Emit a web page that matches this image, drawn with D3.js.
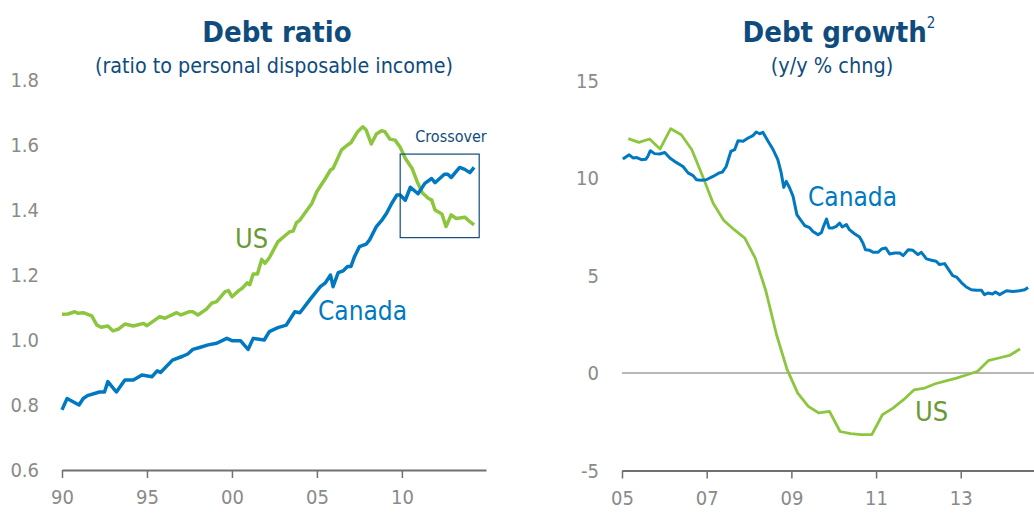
<!DOCTYPE html>
<html>
<head>
<meta charset="utf-8">
<script src="https://cdn.jsdelivr.net/npm/d3@7"></script>
<style>
  body { margin: 0; background: #fff; }
  svg text { font-family: "DejaVu Sans Condensed", "DejaVu Sans", sans-serif; }
</style>
</head>
<body>
<div id="main_output"></div>
<script>
// ---- data ----

// left panel: debt ratio to personal disposable income
var ratioTicks = [0.6, 0.8, 1.0, 1.2, 1.4, 1.6, 1.8];
var ratioYearTicks = [1990, 1995, 2000, 2005, 2010];
var ratioYearLabels = ["90", "95", "00", "05", "10"];

var canRatioDates = [1990.0, 1990.3, 1991.0, 1991.25, 1991.5, 1992.2, 1992.5, 1992.7, 1993.2, 1993.7,
  1994.2, 1994.7, 1995.3, 1995.6, 1995.8, 1996.5, 1997.1, 1997.4, 1997.7, 1998.1,
  1998.6, 1999.1, 1999.7, 2000.0, 2000.5, 2000.95, 2001.25, 2001.9, 2002.2, 2002.7,
  2003.2, 2003.7, 2004.0, 2004.6, 2005.2, 2005.5, 2005.8, 2005.95, 2006.25, 2006.55,
  2006.8, 2007.0, 2007.2, 2007.5, 2007.9, 2008.1, 2008.5, 2008.8, 2009.1, 2009.4,
  2009.7, 2009.9, 2010.2, 2010.5, 2010.95, 2011.35, 2011.75, 2011.95, 2012.5, 2012.7,
  2012.9, 2013.4, 2013.7, 2014.0, 2014.25];
var canRatio = [0.785, 0.82, 0.80, 0.82, 0.829, 0.84, 0.84, 0.872, 0.84, 0.877,
  0.877, 0.892, 0.887, 0.905, 0.90, 0.938, 0.95, 0.957, 0.971, 0.977,
  0.985, 0.99, 1.005, 0.998, 0.998, 0.971, 1.005, 1.0, 1.026, 1.038,
  1.046, 1.087, 1.084, 1.125, 1.164, 1.176, 1.2, 1.164, 1.207, 1.213,
  1.226, 1.226, 1.255, 1.287, 1.295, 1.308, 1.349, 1.367, 1.39, 1.42,
  1.446, 1.446, 1.43, 1.47, 1.45, 1.482, 1.497, 1.484, 1.51, 1.51,
  1.5, 1.531, 1.525, 1.515, 1.531];

var usRatioDates = [1990.0, 1990.35, 1990.75, 1990.95, 1991.25, 1991.75, 1992.05, 1992.3, 1992.7, 1993.0,
  1993.3, 1993.7, 1994.2, 1994.8, 1995.0, 1995.75, 1996.05, 1996.75, 1997.0, 1997.5,
  1997.7, 1998.0, 1998.5, 1998.8, 1999.1, 1999.6, 1999.8, 2000.0, 2000.4, 2000.6,
  2000.9, 2001.05, 2001.25, 2001.5, 2001.75, 2001.95, 2002.2, 2002.7, 2003.1, 2003.4,
  2003.6, 2003.8, 2004.0, 2004.7, 2005.0, 2005.5, 2005.8, 2005.95, 2006.45, 2006.8,
  2007.0, 2007.4, 2007.7, 2007.9, 2008.2, 2008.5, 2008.8, 2009.0, 2009.3, 2009.6,
  2009.9, 2010.2, 2010.6, 2010.9, 2011.2, 2011.55, 2011.75, 2011.95, 2012.35, 2012.6,
  2012.9, 2013.2, 2013.7, 2014.0, 2014.25];
var usRatio = [1.079, 1.08, 1.087, 1.082, 1.084, 1.074, 1.046, 1.039, 1.043, 1.028,
  1.033, 1.049, 1.043, 1.051, 1.044, 1.072, 1.067, 1.084, 1.077, 1.087,
  1.087, 1.077, 1.095, 1.113, 1.118, 1.149, 1.152, 1.133, 1.152, 1.159,
  1.176, 1.17, 1.203, 1.203, 1.248, 1.236, 1.253, 1.302, 1.32, 1.333,
  1.335, 1.361, 1.369, 1.42, 1.457, 1.497, 1.523, 1.528, 1.585, 1.6,
  1.607, 1.641, 1.656, 1.646, 1.603, 1.634, 1.644, 1.641, 1.618, 1.615,
  1.593, 1.559, 1.528, 1.487, 1.453, 1.436, 1.431, 1.4, 1.388, 1.349,
  1.385, 1.374, 1.378, 1.364, 1.354];

var crossoverYears = [2009.9, 2014.55];
var crossoverRatio = [1.315, 1.572];

// right panel: debt growth, y/y % change
var growthTicks = [-5, 0, 5, 10, 15];
var growthYearTicks = [2005, 2007, 2009, 2011, 2013];
var growthYearLabels = ["05", "07", "09", "11", "13"];

var canGrowthDates = [2005.02, 2005.17, 2005.26, 2005.35, 2005.46, 2005.56, 2005.61, 2005.67, 2005.77, 2005.89,
  2006.01, 2006.13, 2006.28, 2006.44, 2006.56, 2006.68, 2006.76, 2006.87, 2006.99, 2007.15,
  2007.29, 2007.37, 2007.46, 2007.57, 2007.66, 2007.74, 2007.86, 2007.98, 2008.09, 2008.17,
  2008.25, 2008.33, 2008.45, 2008.56, 2008.68, 2008.76, 2008.82, 2008.88, 2008.96, 2009.04,
  2009.13, 2009.2, 2009.32, 2009.42, 2009.51, 2009.63, 2009.71, 2009.76, 2009.83, 2009.89,
  2009.98, 2010.06, 2010.14, 2010.2, 2010.3, 2010.37, 2010.49, 2010.61, 2010.69, 2010.75,
  2010.85, 2010.93, 2011.05, 2011.13, 2011.23, 2011.32, 2011.44, 2011.56, 2011.64, 2011.76,
  2011.87, 2011.99, 2012.07, 2012.19, 2012.31, 2012.42, 2012.5, 2012.62, 2012.69, 2012.81,
  2012.9, 2013.01, 2013.13, 2013.25, 2013.37, 2013.49, 2013.56, 2013.64, 2013.75, 2013.82,
  2013.92, 2014.08, 2014.23, 2014.39, 2014.51, 2014.59];
var canGrowth = [10.97, 11.19, 11.03, 11.05, 10.94, 10.96, 11.11, 11.4, 11.25, 11.23,
  11.31, 11.03, 10.8, 10.59, 10.26, 10.12, 9.91, 9.88, 9.91, 10.08,
  10.26, 10.3, 10.59, 11.36, 11.45, 11.91, 11.88, 12.05, 12.17, 12.36,
  12.27, 12.34, 11.88, 11.49, 10.94, 10.26, 9.52, 9.83, 9.49, 9.06,
  8.12, 7.9, 7.55, 7.47, 7.26, 7.09, 7.21, 7.52, 7.9, 7.44,
  7.44, 7.52, 7.69, 7.49, 7.61, 7.35, 7.14, 6.97, 6.67, 6.32,
  6.29, 6.19, 6.19, 6.36, 6.41, 6.1, 6.15, 6.15, 6.02, 6.32,
  6.29, 6.07, 6.19, 5.85, 5.78, 5.73, 5.56, 5.61, 5.38, 4.99,
  4.92, 4.65, 4.41, 4.27, 4.24, 4.24, 4.02, 4.1, 4.05, 4.15,
  4.02, 4.22, 4.18, 4.22, 4.27, 4.39];

var usGrowthDates = [2005.15, 2005.4, 2005.65, 2005.9, 2006.15, 2006.4, 2006.65, 2006.9, 2007.15, 2007.4,
  2007.65, 2007.9, 2008.15, 2008.4, 2008.65, 2008.9, 2009.15, 2009.4, 2009.65, 2009.9,
  2010.15, 2010.4, 2010.65, 2010.9, 2011.15, 2011.4, 2011.65, 2011.9, 2012.15, 2012.4,
  2012.65, 2012.9, 2013.15, 2013.4, 2013.65, 2013.9, 2014.15, 2014.4];
var usGrowth = [12.02, 11.83, 12.0, 11.49, 12.53, 12.22, 11.45, 10.12, 8.72, 7.83,
  7.35, 6.92, 5.88, 4.19, 1.96, 0.17, -1.03, -1.71, -2.05, -1.97,
  -3.0, -3.11, -3.16, -3.16, -2.14, -1.8, -1.37, -0.86, -0.77, -0.55,
  -0.4, -0.26, -0.09, 0.09, 0.63, 0.77, 0.9, 1.23];

// ---- styling ----
const blue = "#0079c1";
const green = "#8cc63f";
const greenText = "#6a9a34";
const navy = "#0f4c7d";
const grey = "#8a8a8a";
const axisGrey = "#707070";

const W = 1034, H = 515;

var svg = d3.select("#main_output")
  .append("svg")
  .attr("width", W)
  .attr("height", H);

function zip(xs, ys) {
  return xs.map(function(d, i) { return [d, ys[i]]; });
}

// ---------------- left panel ----------------
var xL = d3.scaleLinear().domain([1990, 2014.95]).range([62, 486]);
var yL = d3.scaleLinear().domain([0.6, 1.8]).range([470, 80]);

var left = svg.append("g").attr("class", "left");

left.append("text")
  .attr("x", 277).attr("y", 42)
  .attr("text-anchor", "middle")
  .attr("font-size", "29px").attr("font-weight", "bold")
  .attr("fill", navy)
  .text("Debt ratio");

left.append("text")
  .attr("x", 274).attr("y", 73)
  .attr("text-anchor", "middle")
  .attr("font-size", "21.3px")
  .attr("fill", navy)
  .text("(ratio to personal disposable income)");

left.selectAll(".ylab")
  .data(ratioTicks)
  .enter().append("text")
  .attr("class", "ylab")
  .attr("x", 39)
  .attr("y", function(d) { return yL(d); })
  .attr("dy", "0.36em")
  .attr("text-anchor", "end")
  .attr("font-size", "20px")
  .attr("fill", grey)
  .text(function(d) { return d3.format(".1f")(d); });

var xAxisL = d3.axisBottom(xL)
  .tickValues(ratioYearTicks)
  .tickFormat(function(d, i) { return ratioYearLabels[i]; })
  .tickSizeInner(8).tickSizeOuter(0).tickPadding(12);

var gxL = left.append("g")
  .attr("class", "axis axis--x")
  .attr("transform", "translate(0," + yL(0.6) + ")")
  .call(xAxisL);

var lineL = d3.line()
  .x(function(d) { return xL(d[0]); })
  .y(function(d) { return yL(d[1]); });

left.append("path")
  .datum(zip(usRatioDates, usRatio))
  .attr("fill", "none")
  .attr("stroke", green)
  .attr("stroke-width", 3.5)
  .attr("stroke-linejoin", "round")
  .attr("d", lineL);

left.append("path")
  .datum(zip(canRatioDates, canRatio))
  .attr("fill", "none")
  .attr("stroke", blue)
  .attr("stroke-width", 3.5)
  .attr("stroke-linejoin", "round")
  .attr("d", lineL);

left.append("rect")
  .attr("x", xL(crossoverYears[0]))
  .attr("y", yL(crossoverRatio[1]))
  .attr("width", xL(crossoverYears[1]) - xL(crossoverYears[0]))
  .attr("height", yL(crossoverRatio[0]) - yL(crossoverRatio[1]))
  .attr("fill", "none")
  .attr("stroke", navy)
  .attr("stroke-width", 1.2);

left.append("text")
  .attr("x", 451).attr("y", 142)
  .attr("text-anchor", "middle")
  .attr("font-size", "16px")
  .attr("fill", navy)
  .text("Crossover");

left.append("text")
  .attr("x", 235).attr("y", 248)
  .attr("font-size", "27px")
  .attr("fill", greenText)
  .text("US");

left.append("text")
  .attr("x", 318).attr("y", 320)
  .attr("font-size", "26px")
  .attr("fill", blue)
  .text("Canada");

// ---------------- right panel ----------------
var xR = d3.scaleLinear().domain([2005, 2014.73]).range([622, 1034]);
var yR = d3.scaleLinear().domain([-5, 15]).range([470.5, 80.5]);

var right = svg.append("g").attr("class", "right");

var title = right.append("text")
  .attr("x", 839).attr("y", 42)
  .attr("text-anchor", "middle")
  .attr("font-size", "29px").attr("font-weight", "bold")
  .attr("fill", navy);
title.append("tspan").text("Debt growth");
title.append("tspan")
  .attr("font-size", "15px").attr("font-weight", "normal")
  .attr("dy", "-14")
  .text("2");

right.append("text")
  .attr("x", 832).attr("y", 73)
  .attr("text-anchor", "middle")
  .attr("font-size", "21.5px")
  .attr("fill", navy)
  .text("(y/y % chng)");

right.selectAll(".ylab")
  .data(growthTicks)
  .enter().append("text")
  .attr("class", "ylab")
  .attr("x", 599)
  .attr("y", function(d) { return yR(d); })
  .attr("dy", "0.36em")
  .attr("text-anchor", "end")
  .attr("font-size", "20px")
  .attr("fill", grey)
  .text(function(d) { return d; });

right.append("line")
  .attr("x1", xR(2005)).attr("x2", W)
  .attr("y1", yR(0)).attr("y2", yR(0))
  .attr("stroke", axisGrey)
  .attr("stroke-width", 1);

var xAxisR = d3.axisBottom(xR)
  .tickValues(growthYearTicks)
  .tickFormat(function(d, i) { return growthYearLabels[i]; })
  .tickSizeInner(8).tickSizeOuter(0).tickPadding(12);

var gxR = right.append("g")
  .attr("class", "axis axis--x")
  .attr("transform", "translate(0," + yR(-5) + ")")
  .call(xAxisR);

var lineR = d3.line()
  .x(function(d) { return xR(d[0]); })
  .y(function(d) { return yR(d[1]); });

right.append("path")
  .datum(zip(usGrowthDates, usGrowth))
  .attr("fill", "none")
  .attr("stroke", green)
  .attr("stroke-width", 2.8)
  .attr("stroke-linejoin", "round")
  .attr("d", lineR);

right.append("path")
  .datum(zip(canGrowthDates, canGrowth))
  .attr("fill", "none")
  .attr("stroke", blue)
  .attr("stroke-width", 3)
  .attr("stroke-linejoin", "round")
  .attr("d", lineR);

right.append("text")
  .attr("x", 808).attr("y", 206)
  .attr("font-size", "26px")
  .attr("fill", blue)
  .text("Canada");

right.append("text")
  .attr("x", 915).attr("y", 421)
  .attr("font-size", "27px")
  .attr("fill", greenText)
  .text("US");

// axis styling shared by both panels
svg.selectAll(".axis path.domain")
  .attr("stroke", axisGrey)
  .attr("stroke-width", 2);
svg.selectAll(".axis .tick line")
  .attr("stroke", axisGrey)
  .attr("stroke-width", 1.5);
svg.selectAll(".axis .tick text")
  .attr("font-size", "20px")
  .attr("font-family", "DejaVu Sans Condensed, DejaVu Sans, sans-serif")
  .attr("fill", grey);
</script>
</body>
</html>
